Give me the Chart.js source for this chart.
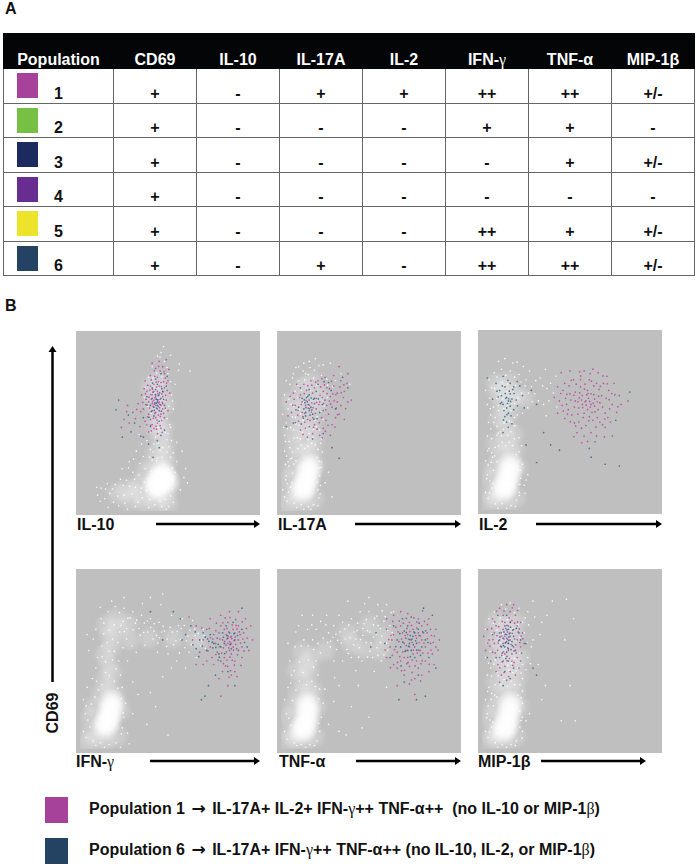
<!DOCTYPE html>
<html lang="en">
<head>
<meta charset="UTF-8">
<title>CD69 populations</title>
<script src="https://cdn.jsdelivr.net/npm/chart.js"></script>
<style>
  html, body { margin: 0; padding: 0; background: #fff; }
  body { position: relative; width: 699px; height: 868px; overflow: hidden; font-family: "Liberation Sans", Arial, sans-serif; font-weight: bold; color: #111; }
  .abs { position: absolute; white-space: pre; }
  canvas { position: absolute; background: #bfbfbf; }
  table { position: absolute; left: 3px; top: 33px; width: 692px; height: 242px; border-collapse: collapse; table-layout: fixed; }
  tr { height: 34.5px; }
  tr:first-child { height: 35px; }
  th { background: #030507; color: #fff; font-size: 16px; line-height: 16px; padding: 0 0 0; vertical-align: bottom; border: 1px solid #030507; box-sizing: border-box; }
  td { border: 1px solid #666; font-size: 16px; line-height: 16px; text-align: center; vertical-align: bottom; padding: 0 0 1px; position: relative; box-sizing: border-box; }
  .swatch { position: absolute; left: 13px; top: 4px; width: 21px; height: 25px; }
  .sym { font-family: "Liberation Serif", serif; font-weight: normal; }
  .arr { font-family: "DejaVu Sans", sans-serif; font-size: 17px; line-height: 16px; margin: 0 2px; }
  .lab { font-size: 16px; }
  .leg { font-size: 16px; }
  svg { position: absolute; left: 0; top: 0; }
</style>
</head>
<body>
<div class="abs" style="left:5px;top:0px;font-size:16px">A</div>
<div class="abs" style="left:5px;top:297px;font-size:16px">B</div>
<table id="tbl"></table>
<svg id="arrows" width="699" height="868"></svg>
<script>
// table A
const tableColumns = ['Population', 'CD69', 'IL-10', 'IL-17A', 'IL-2', 'IFN-γ', 'TNF-α', 'MIP-1β'];
const populations = ['1', '2', '3', '4', '5', '6'];
const swatchColors = ['#a6429a', '#76c043', '#1c2a60', '#682d91', '#ece32a', '#244362'];
const tableRows = [
  ['+', '-', '+', '+', '++', '++', '+/-'],
  ['+', '-', '-', '-', '+', '+', '-'],
  ['+', '-', '-', '-', '-', '+', '+/-'],
  ['+', '-', '-', '-', '-', '-', '-'],
  ['+', '-', '-', '-', '++', '+', '+/-'],
  ['+', '-', '+', '-', '++', '++', '+/-']
];

// panel B: dots are a hand-read sample of each cloud on a 0-100 scale, not every event.
// core = solid white centre, haze = soft white area, specks = single white events
const il10Core = [[46,18],[49,17],[43,16],[47,21],[44,13]];
const il10Haze = [[50,12],[48,8],[42,8],[36,9],[31,11],[26,12],[21,10],[28,6],[36,4],[44,4],[50,4],[49,27],[48,32],[48,37],[46,42],[47,47],[45,25],[41,26],[43,33],[44,55],[42,62],[46,68],[44,74],[48,60],[40,70],[43,48],[33,15],[37,22]];
const il10Specks = [[17,10],[20,15],[23,18],[25,9],[28,14],[14,7],[31,18],[33,5],[35,13],[37,24],[39,2],[41,29],[22,3],[27,1],[30,22],[34,27],[36,31],[53,5],[52,18],[54,22],[55,28],[53,33],[52,40],[50,44],[44,30],[42,38],[40,35],[38,40],[47,52],[51,49],[53,58],[52,66],[50,78],[48,85],[46,90],[44,88],[41,82],[39,76],[37,70],[54,72],[56,80],[57,12],[59,19],[61,16],[19,5],[12,13],[10,9],[24,24],[28,28],[32,34],[35,38],[40,45],[16,2],[45,9],[49,1],[47,36],[43,42],[55,39],[60,24],[58,34],
  [18.5,12.5],[21.5,8.5],[24.5,14.5],[26.5,17.5],[29.5,9.5],[31.5,13.5],[33.5,20.5],[35.5,7.5],[37.5,11.5],[38.5,18.5],[39.5,6.5],[40.5,22.5],[42.5,3.5],[43.5,10.5],[45.5,5.5],[46.5,2.5],[47.5,10.5],[48.5,6.5],[50.5,2.5],[51.5,8.5],[52.5,12.5],[52.5,24.5],[51.5,30.5],[50.5,36.5],[49.5,40.5],[48.5,44.5],[46.5,30.5],[45.5,34.5],[44.5,38.5],[43.5,28.5],[41.5,33.5],[39.5,30.5],[49.5,33.5],[47.5,26.5],[51.5,47.5],[49.5,52.5],[44.5,47.5],[40.5,55.5],[38.5,59.5],[41.5,75.5],[43.5,78.5],[46.5,76.5],[49.5,81.5],[51.5,73.5],[52.5,62.5],[50.5,59.5],[36.5,64.5],[33.5,43.5],[30.5,29.5],[27.5,24.5],[25.5,4.5],[31.5,2.5],[34.5,10.5],[36.5,16.5],[14.5,12.5],[11.5,5.5],[15.5,15.5],[9.5,13.5],[47.5,93.5],[45.5,87.5],[51.5,88.5],[56.5,83.5],[62.5,79.5]];
const il10Pop1 = [[43,60],[45,62],[41,57],[47,65],[44,68],[39,62],[42,72],[46,55],[48,70],[40,52],[44,50],[47,58],[43,65],[41,66],[45,71],[38,68],[49,63],[36,58],[42,47],[46,47],[44,76],[48,78],[40,77],[43,81],[47,82],[37,74],[35,66],[33,61],[30,56],[27,60],[25,52],[38,49],[50,74],[51,67],[50,57],[43,56],[42,63],[44,58],[46,60],[45,66],[41,61],[39,55],[37,51],[48,53],[28,50],[45,85],[41,84],[49,86],[42,68],[46,73],[40,71],[44,63],[47,61],[43,53],[41,49],[44,44],[39,45],[34,48],
  [43.5,61.5],[42.5,64.5],[44.5,59.5],[45.5,63.5],[41.5,59.5],[46.5,66.5],[40.5,63.5],[42.5,55.5],[44.5,54.5],[47.5,55.5],[39.5,58.5],[38.5,53.5],[45.5,48.5],[43.5,46.5],[40.5,45.5],[46.5,51.5],[48.5,58.5],[49.5,68.5],[47.5,73.5],[44.5,73.5],[42.5,76.5],[40.5,74.5],[38.5,71.5],[36.5,69.5],[43.5,70.5],[45.5,79.5],[48.5,75.5],[50.5,80.5],[37.5,63.5],[34.5,56.5],[31.5,52.5],[26.5,56.5],[23.5,47.5],[34.5,42.5],
  [42.2,60.7],[44.7,61.2],[43.2,63.7],[45.2,58.7],[41.2,62.2],[46.7,61.7],[40.2,66.2],[44.2,66.7],[42.7,66.2],[47.2,67.7],[39.2,64.7],[38.2,60.2],[43.7,51.7],[41.7,52.7],[45.7,53.7],[48.7,65.7],[46.2,70.7],[43.2,73.2],[41.2,69.2],[39.7,68.7],[37.2,66.7],[49.2,72.7],[44.7,82.2],[42.2,79.7],[47.7,79.2],[40.2,48.7],[43.2,48.2],[46.7,44.7],[35.7,61.7],[32.2,57.7]];
const il10Pop6 = [[44,62],[42,59],[45,57],[43,69],[41,64],[46,64],[44,72],[40,60],[47,68],[42,54],[45,51],[38,65],[48,60],[43,75],[40,48],[46,43],[36,53],[31,50],[22,63],[29,45],[24,42],[49,71],[36,42],[44,40],[45,36],[39,38],[43,66],[44,60],[41,70],[46,78],[48,46],[43.5,63.5],[44.5,65.5],[42.5,61.5],[45.5,60.5],[43.5,58.5],[41.5,67.5],[46.5,69.5],[47.5,63.5],[40.5,56.5],[37.5,60.5],[27.5,54.5],[20.5,57.5],[49.5,76.5],[41.5,30.5],[43.2,61.2],[44.2,63.2],[42.2,57.2],[45.2,67.2],[41.2,72.7],[39.2,53.2],[46.2,56.7]];

const il17Core = [[14,15],[15,20],[12,12],[16,25]];
const il17Haze = [[6,10],[9,6],[14,5],[19,7],[5,18],[7,24],[19,26],[10,31],[15,33],[18,34],[8,37],[14,39],[19,42],[7,44],[12,47],[17,50],[9,55],[14,60],[6,62],[12,70],[17,73],[20,60],[22,66],[4,4]];
const il17Specks = [[2,8],[3,20],[1,12],[4,28],[2,34],[5,36],[21,12],[22,20],[23,28],[21,35],[23,41],[2,43],[3,50],[1,55],[4,58],[2,66],[5,72],[7,78],[10,82],[13,84],[16,85],[19,80],[23,77],[26,75],[28,84],[24,83],[9,2],[13,1],[17,1],[21,3],[6,30],[11,41],[16,44],[20,48],[24,52],[22,46],[10,74],[14,78],[8,68],[3,74],[25,16],[27,22],[29,8],[31,74],[34,78],[39,72],
  [3.5,5.5],[5.5,13.5],[7.5,4.5],[3.5,15.5],[6.5,21.5],[4.5,25.5],[2.5,26.5],[8.5,28.5],[6.5,33.5],[4.5,39.5],[7.5,41.5],[9.5,35.5],[11.5,37.5],[13.5,35.5],[15.5,40.5],[17.5,38.5],[19.5,37.5],[20.5,30.5],[21.5,24.5],[20.5,16.5],[21.5,7.5],[18.5,3.5],[15.5,2.5],[11.5,3.5],[5.5,47.5],[8.5,49.5],[10.5,45.5],[12.5,51.5],[14.5,46.5],[18.5,46.5],[6.5,53.5],[10.5,57.5],[4.5,63.5],[7.5,59.5],[9.5,64.5],[12.5,61.5],[14.5,65.5],[16.5,68.5],[11.5,68.5],[9.5,71.5],[13.5,74.5],[15.5,77.5],[18.5,75.5],[20.5,71.5],[6.5,75.5],[22.5,56.5],[24.5,59.5],[26.5,64.5],[20.5,53.5],[22.5,38.5],[23.5,33.5],[22.5,14.5],[8.5,81.5],[12.5,79.5],[16.5,81.5],[21.5,82.5],[19.5,86.5],[26.5,71.5],[29.5,70.5],[1.5,47.5],[2.5,39.5],
  [4.2,10.7],[6.2,16.2],[8.2,9.2],[2.7,17.7],[5.2,29.7],[3.2,31.2],[7.2,26.7],[9.2,41.7],[12.2,44.7],[15.2,36.7],[18.2,41.7],[21.7,28.2],[22.7,24.7],[22.2,9.7],[7.2,46.2],[3.7,46.7],[10.2,48.7],[15.7,48.2],[19.2,51.7],[8.2,53.2],[5.7,60.7],[11.2,55.2],[17.7,53.2]];
const il17Pop1 = [[14,60],[16,63],[12,56],[18,67],[20,58],[15,52],[11,66],[22,62],[24,68],[26,60],[28,65],[30,71],[32,62],[27,55],[23,53],[19,49],[14,47],[10,51],[8,60],[6,56],[4,54],[7,67],[13,72],[17,74],[21,74],[25,76],[30,77],[34,74],[38,78],[36,68],[34,60],[38,62],[40,63],[33,55],[29,49],[24,47],[18,44],[15,42],[22,43],[28,43],[31,53],[36,52],[12,62],[16,57],[20,64],[18,53],[24,57],[26,70],[29,59],[32,67],[11,46],[9,72],[3,62],[19,70],[33,82],
  [15.5,58.5],[13.5,55.5],[17.5,61.5],[19.5,55.5],[21.5,60.5],[23.5,64.5],[25.5,57.5],[27.5,62.5],[29.5,66.5],[31.5,58.5],[16.5,51.5],[13.5,50.5],[20.5,46.5],[17.5,71.5],[14.5,68.5],[11.5,60.5],[9.5,54.5],[7.5,63.5],[22.5,70.5],[27.5,69.5],[25.5,51.5],[23.5,41.5],[35.5,64.5],[33.5,70.5],[37.5,72.5],[10.5,64.5],[18.5,47.5],[12.5,43.5],
  [14.2,62.7],[16.2,60.2],[18.2,58.7],[20.2,61.7],[22.2,65.7],[24.2,61.2],[26.2,66.7],[28.2,60.7],[30.2,62.7],[32.2,54.7],[30.7,47.7],[26.7,48.7],[21.7,50.2],[17.2,56.2],[12.7,52.7],[9.7,57.2],[6.7,60.2],[13.2,66.7],[15.2,71.2],[19.7,73.2],[24.7,71.7],[28.7,73.7],[31.2,66.2],[34.2,67.2],[36.7,58.2],[5.2,65.2],[8.2,50.2],[25.2,45.2],[35.7,71.7],[23.2,75.2]];
const il17Pop6 = [[15,62],[17,59],[13,58],[19,61],[16,66],[12,64],[18,55],[14,54],[20,68],[10,59],[22,56],[25,63],[7,50],[16,48],[21,72],[27,73],[31,58],[35,76],[38,70],[3,48],[11,70],[24,44],[18,41],[29,36],[33,30],[16,69],[14,56],[19,64],[15.5,60.5],[13.5,61.5],[17.5,57.5],[16.5,54.5],[12.5,53.5],[18.5,63.5],[14.5,64.5],[20.5,52.5],[8.5,57.5],[23.5,60.5],[28.5,68.5],[11.5,49.5],[24.5,73.5],[14.2,58.7],[16.2,58.2],[15.2,65.2],[13.2,63.2],[17.2,64.2],[18.7,52.2],[21.2,63.7]];

const il2Core = [[14,15],[15,20],[12,12],[16,25]];
const il2Haze = [[6,9],[9,6],[14,5],[19,7],[5,18],[7,24],[20,24],[10,31],[15,33],[18,34],[8,38],[14,40],[18,43],[13,47],[10,52],[15,55],[11,60],[16,62],[13,68],[9,67],[19,66],[24,63],[8,72],[15,73],[5,5]];
const il2Specks = [[2,10],[3,20],[2,28],[4,35],[3,42],[5,46],[21,10],[22,18],[23,26],[21,33],[21,41],[19,48],[20,54],[5,54],[3,60],[2,68],[4,74],[7,78],[11,80],[16,79],[21,77],[25,74],[28,70],[30,66],[32,62],[35,60],[37,69],[33,75],[27,79],[20,84],[13,86],[24,14],[25,17],[26,20],[9,1],[14,1],[19,2],[6,30],[11,42],[17,50],[23,55],[26,58],[38,62],[39,72],[42,76],[36,80],
  [3.5,6.5],[5.5,12.5],[7.5,3.5],[4.5,16.5],[6.5,22.5],[3.5,25.5],[8.5,27.5],[5.5,32.5],[7.5,35.5],[5.5,40.5],[8.5,42.5],[9.5,36.5],[11.5,38.5],[13.5,36.5],[15.5,38.5],[17.5,36.5],[19.5,31.5],[20.5,22.5],[21.5,14.5],[19.5,5.5],[16.5,2.5],[11.5,3.5],[18.5,40.5],[16.5,44.5],[14.5,42.5],[8.5,47.5],[10.5,44.5],[12.5,49.5],[15.5,50.5],[18.5,52.5],[7.5,52.5],[9.5,56.5],[6.5,58.5],[4.5,63.5],[8.5,63.5],[10.5,65.5],[12.5,57.5],[14.5,59.5],[16.5,56.5],[18.5,60.5],[20.5,63.5],[22.5,66.5],[17.5,69.5],[14.5,71.5],[11.5,72.5],[8.5,75.5],[5.5,69.5],[13.5,76.5],[18.5,75.5],[24.5,70.5],[26.5,66.5],[28.5,61.5],[30.5,73.5],[23.5,81.5],[17.5,83.5],[9.5,84.5],[22.5,36.5],[24.5,9.5],[34.5,70.5],[40.5,66.5],[42.5,58.5],[36.5,53.5],
  [4.2,9.7],[6.2,15.2],[8.2,8.7],[2.7,17.7],[5.2,27.2],[3.2,33.7],[7.2,30.7],[9.2,43.7],[12.2,45.7],[15.2,46.7],[18.2,47.7],[20.7,27.7],[21.7,22.7],[21.2,8.2],[6.7,49.7],[3.7,49.7],[4.7,57.7],[9.2,59.2],[11.7,63.2],[14.2,67.2],[7.2,69.2],[19.2,70.7],[22.2,72.7]];
const il2Pop1 = [[59,62],[57,65],[62,60],[55,58],[60,68],[64,63],[53,62],[66,57],[58,55],[68,65],[50,66],[48,60],[46,68],[44,62],[43,70],[47,72],[52,74],[56,74],[61,74],[65,72],[69,72],[72,68],[74,60],[70,55],[67,50],[63,51],[59,48],[55,50],[51,54],[47,52],[43,55],[41,64],[45,78],[50,79],[58,79],[63,80],[66,78],[71,76],[75,72],[73,50],[74,42],[62,44],[58,42],[54,44],[60,39],[65,42],[60,57],[57,60],[62,66],[53,67],[56,70],[64,59],[49,57],[67,61],[61,53],[79,60],[78,65],[70,47],[83,62],
  [58.5,61.5],[60.5,63.5],[56.5,62.5],[61.5,58.5],[63.5,65.5],[65.5,61.5],[55.5,66.5],[59.5,65.5],[52.5,58.5],[50.5,62.5],[54.5,54.5],[57.5,52.5],[62.5,55.5],[65.5,52.5],[68.5,58.5],[70.5,63.5],[72.5,57.5],[66.5,68.5],[63.5,70.5],[58.5,71.5],[53.5,71.5],[49.5,70.5],[45.5,59.5],[48.5,54.5],[52.5,49.5],[56.5,46.5],[68.5,48.5],[71.5,52.5],[69.5,41.5],[76.5,55.5],[75.5,65.5],[61.5,77.5],[55.5,78.5],[47.5,63.5],[54.5,61.5],
  [59.2,59.7],[61.2,61.7],[57.2,58.2],[60.2,66.2],[63.2,60.7],[55.2,63.7],[52.2,65.2],[48.2,65.7],[46.2,56.2],[50.2,50.2],[53.2,47.7],[60.7,50.7],[64.7,47.2],[69.7,51.7],[72.2,62.7],[67.2,70.2],[62.2,73.2],[56.2,76.2],[50.7,73.7],[44.7,66.2],[66.2,64.7],[64.2,55.7],[58.2,68.7],[73.7,66.2],[77.2,58.7],[71.2,71.7],[68.7,76.2],[52.2,41.7],[56.7,38.2],[64.2,38.7]];
const il2Pop6 = [[15,62],[14,58],[16,66],[13,70],[12,60],[17,63],[15,55],[11,65],[14,50],[18,57],[10,68],[16,72],[13,53],[18,70],[8,72],[20,73],[23,65],[6,63],[12,44],[15,47],[16,59],[14,64],[28,68],[31,60],[3,75],[24,58],[17,49],[12,76],[25,37],[31,27],[44,34],[39,37],[35,44],[62,30],[70,26],[78,25],[84,67],[76,51],[61,35],[14.5,60.5],[15.5,67.5],[13.5,63.5],[12.5,56.5],[16.5,53.5],[11.5,70.5],[17.5,68.5],[19.5,62.5],[10.5,60.5],[8.5,67.5],[21.5,70.5],[13.2,66.2],[15.2,63.2],[11.2,61.2],[16.2,61.7],[14.2,54.2],[12.2,51.2],[9.2,64.2],[18.2,66.2],[20.2,59.2],[14.7,73.7]];

const ifnCore = [[16,16],[17,21],[14,13],[18,26]];
const ifnHaze = [[6,9],[10,6],[15,5],[21,7],[6,18],[8,24],[23,22],[12,31],[17,34],[20,30],[14,39],[18,43],[16,48],[14,54],[18,58],[17,64],[21,68],[15,70],[20,74],[27,71],[39,63],[53,63],[66,62],[28,62],[4,4]];
const ifnSpecks = [[2,10],[3,20],[2,28],[4,35],[7,40],[9,46],[24,12],[25,18],[26,26],[24,35],[23,42],[22,50],[10,52],[5,56],[4,65],[9,68],[12,74],[16,78],[20,81],[25,80],[30,78],[35,76],[40,74],[45,72],[48,67],[42,67],[37,59],[32,55],[27,50],[44,55],[50,54],[55,50],[60,46],[52,46],[47,41],[40,32],[43,24],[38,14],[50,8],[30,38],[33,31],[25,86],[18,84],[46,82],[52,76],[58,74],[64,73],[70,68],[56,70],[62,55],[66,52],[28,3],[23,1],[14,1],[9,2],[30,20],[27,9],[40,86],[47,88],
  [3.5,6.5],[5.5,12.5],[7.5,4.5],[4.5,16.5],[6.5,25.5],[3.5,24.5],[8.5,29.5],[10.5,33.5],[12.5,36.5],[9.5,38.5],[14.5,43.5],[16.5,41.5],[19.5,38.5],[21.5,34.5],[23.5,28.5],[24.5,20.5],[23.5,8.5],[20.5,3.5],[16.5,2.5],[11.5,3.5],[20.5,45.5],[18.5,50.5],[14.5,49.5],[12.5,52.5],[16.5,55.5],[19.5,55.5],[12.5,58.5],[15.5,60.5],[18.5,62.5],[21.5,60.5],[13.5,65.5],[16.5,67.5],[19.5,70.5],[22.5,66.5],[24.5,72.5],[26.5,68.5],[28.5,74.5],[31.5,71.5],[33.5,68.5],[36.5,71.5],[38.5,66.5],[41.5,62.5],[43.5,64.5],[46.5,66.5],[49.5,62.5],[52.5,66.5],[54.5,61.5],[57.5,68.5],[60.5,61.5],[62.5,67.5],[65.5,64.5],[68.5,58.5],[70.5,64.5],[59.5,57.5],[56.5,54.5],[24.5,57.5],[26.5,62.5],[29.5,58.5],[11.5,80.5],[22.5,77.5],[35.5,82.5],[7.5,62.5],[13.5,71.5],
  [23.2,70.2],[25.2,66.7],[27.2,74.2],[30.2,67.7],[32.2,73.2],[34.2,64.7],[36.2,66.2],[38.2,72.7],[40.2,69.2],[42.2,71.2],[44.2,60.2],[47.2,69.7],[49.2,58.2],[51.2,69.2],[53.2,59.2],[55.2,66.7],[57.2,62.2],[59.2,70.2],[61.2,64.2],[63.2,59.2],[65.2,68.2],[67.2,65.7],[69.2,61.7],[71.2,57.2],[45.2,63.2]];
const ifnPop1 = [[85,61],[83,65],[87,58],[81,62],[88,66],[86,54],[80,70],[90,62],[84,72],[92,58],[78,55],[82,52],[88,50],[84,47],[90,70],[93,66],[95,63],[92,52],[76,65],[74,58],[72,68],[70,62],[68,55],[66,70],[64,62],[62,75],[74,74],[80,76],[85,78],[90,78],[94,74],[97,70],[86,42],[81,44],[76,48],[72,50],[79,40],[84,36],[80,30],[86,64],[83,59],[87,68],[82,68],[89,57],[85,56],[91,65],[77,60],[79,66],[75,52],[70,48],[66,48],[98,62],[96,56],[88,44],[84,60],[86,60],
  [85.5,63.5],[84.5,57.5],[87.5,61.5],[83.5,62.5],[88.5,59.5],[81.5,57.5],[90.5,66.5],[86.5,70.5],[83.5,68.5],[79.5,62.5],[80.5,54.5],[83.5,50.5],[86.5,50.5],[89.5,53.5],[92.5,62.5],[94.5,68.5],[88.5,73.5],[82.5,74.5],[77.5,71.5],[75.5,62.5],[73.5,68.5],[78.5,50.5],[81.5,48.5],[85.5,44.5],[91.5,47.5],[84.5,66.5],
  [86.2,62.7],[84.2,64.2],[82.2,61.2],[88.2,63.7],[87.2,56.2],[85.2,59.2],[89.2,68.2],[91.2,60.2],[93.2,55.7],[85.2,52.2],[87.7,47.7],[82.7,47.2],[79.2,58.2],[77.2,67.2],[81.2,71.7],[85.2,74.7],[88.7,70.2],[92.2,72.2],[74.2,63.2],[72.7,55.7],[84.7,40.7],[89.2,41.2],[77.2,53.7],[69.2,68.7],[83.2,55.2]];
const ifnPop6 = [[84,63],[86,57],[82,60],[88,62],[80,58],[78,63],[76,60],[74,65],[72,56],[70,66],[83,70],[90,56],[87,72],[92,68],[95,58],[68,62],[66,57],[63,70],[60,65],[58,62],[80,50],[84,44],[77,42],[73,36],[71,30],[69,28],[88,36],[92,80],[57,74],[53,78],[47,62],[40,78],[85,66],[81,66],[79,54],[85.5,59.5],[83.5,64.5],[87.5,65.5],[81.5,63.5],[78.5,59.5],[75.5,57.5],[72.5,62.5],[69.5,58.5],[65.5,66.5],[89.5,64.5],[93.5,60.5],[67.5,52.5],[75.2,60.7],[77.2,57.7],[73.2,61.2],[71.2,63.7],[79.2,52.2],[64.2,59.2],[82.2,54.2]];

const tnfCore = [[14,14],[15,19],[12,11],[15,25]];
const tnfHaze = [[6,9],[9,6],[14,5],[19,7],[5,18],[7,24],[20,24],[10,31],[15,33],[18,33],[12,39],[16,43],[14,48],[17,52],[12,55],[9,45],[25,56],[38,66],[50,70],[58,64],[47,57],[56,56],[40,60],[5,5]];
const tnfSpecks = [[2,10],[3,20],[2,28],[4,35],[6,42],[5,50],[8,58],[4,60],[22,10],[23,18],[24,26],[22,34],[21,42],[20,50],[13,62],[18,62],[21,60],[24,63],[27,66],[30,70],[35,72],[33,76],[40,74],[45,78],[50,78],[55,82],[60,82],[64,78],[62,70],[60,60],[57,50],[52,52],[46,50],[40,52],[35,50],[30,50],[28,58],[20,68],[15,68],[10,70],[12,76],[18,76],[26,76],[38,84],[50,86],[60,35],[44,36],[33,36],[30,27],[40,24],[27,14],[33,10],[50,18],[46,12],[37,8],[14,1],[9,2],[19,2],[25,34],[53,44],
  [3.5,5.5],[5.5,13.5],[7.5,3.5],[4.5,17.5],[6.5,27.5],[8.5,33.5],[5.5,37.5],[7.5,44.5],[10.5,38.5],[12.5,43.5],[14.5,36.5],[17.5,38.5],[19.5,35.5],[21.5,28.5],[21.5,14.5],[20.5,4.5],[16.5,2.5],[11.5,2.5],[18.5,46.5],[15.5,50.5],[10.5,49.5],[11.5,58.5],[15.5,58.5],[18.5,56.5],[22.5,54.5],[26.5,60.5],[29.5,63.5],[33.5,66.5],[36.5,62.5],[38.5,70.5],[41.5,66.5],[43.5,71.5],[46.5,64.5],[48.5,73.5],[50.5,66.5],[52.5,70.5],[54.5,75.5],[56.5,68.5],[58.5,72.5],[60.5,67.5],[44.5,57.5],[42.5,62.5],[48.5,60.5],[50.5,55.5],[54.5,57.5],[56.5,60.5],[58.5,53.5],[52.5,63.5],[46.5,68.5],[37.5,56.5],[31.5,56.5],[25.5,70.5],[22.5,72.5],[17.5,70.5],[8.5,66.5],[30.5,40.5],[42.5,44.5],[62.5,77.5],[57.5,78.5],[47.5,82.5],
  [28.2,61.2],[31.2,65.2],[34.2,60.2],[36.2,68.2],[39.2,63.2],[41.2,59.2],[43.2,67.2],[45.2,62.2],[47.2,71.2],[49.2,67.2],[51.2,60.2],[53.2,74.2],[55.2,70.2],[57.2,64.2],[59.2,75.2],[49.2,52.2],[55.2,53.2],[44.2,52.2],[38.2,54.2],[32.2,61.7],[60.7,56.2],[63.2,66.2],[54.2,65.2]];
const tnfPop1 = [[74,62],[72,65],[76,58],[70,60],[78,66],[75,54],[68,70],[80,62],[73,72],[82,58],[66,55],[70,52],[77,50],[73,47],[80,70],[83,66],[85,60],[82,50],[64,65],[62,58],[60,68],[78,74],[72,77],[68,78],[64,76],[60,74],[84,74],[88,68],[90,62],[86,54],[66,46],[70,42],[76,40],[80,42],[84,44],[64,48],[60,52],[73,58],[71,56],[75,68],[69,66],[79,56],[77,63],[81,66],[67,61],[63,62],[72,52],[68,50],[78,46],[88,58],[87,48],[73,37],[76,31],[66,36],[85,68],
  [74.5,60.5],[72.5,62.5],[76.5,64.5],[78.5,60.5],[70.5,64.5],[68.5,62.5],[66.5,66.5],[62.5,64.5],[80.5,54.5],[77.5,54.5],[74.5,50.5],[71.5,48.5],[67.5,52.5],[64.5,56.5],[69.5,71.5],[75.5,74.5],[81.5,72.5],[85.5,64.5],[83.5,54.5],[86.5,60.5],[79.5,48.5],[74.5,43.5],[68.5,44.5],[63.5,72.5],[71.5,68.5],[80.5,78.5],
  [75.2,56.2],[71.2,58.7],[73.2,66.7],[77.2,68.7],[79.2,64.2],[81.2,60.2],[83.2,62.7],[85.2,56.2],[87.2,64.2],[83.2,70.7],[77.2,72.2],[71.2,74.2],[65.2,69.2],[61.2,62.2],[59.2,56.2],[63.2,53.2],[66.2,49.2],[69.2,55.2],[72.2,49.2],[76.2,47.2],[80.2,50.2],[84.2,48.2],[70.2,44.7],[74.2,39.2],[79.2,38.7],[62.2,46.2],[67.2,72.7],[89.2,56.2],[74.2,70.2],[78.2,56.2]];
const tnfPop6 = [[73,60],[75,64],[71,63],[77,60],[74,56],[70,67],[78,68],[68,58],[72,70],[80,58],[76,52],[66,62],[82,62],[74,75],[69,74],[64,70],[62,52],[59,60],[84,52],[78,42],[70,38],[77,28],[67,28],[82,30],[88,46],[86,76],[81,80],[54,66],[51,58],[76,66],[72,56],[74.5,62.5],[72.5,58.5],[76.5,61.5],[75.5,66.5],[73.5,64.5],[70.5,55.5],[78.5,64.5],[80.5,66.5],[67.5,65.5],[83.5,60.5],[73.5,52.5],[78.5,71.5],[75.2,59.2],[73.2,62.2],[71.2,66.2],[69.2,60.7],[77.2,56.2],[79.2,53.2],[65.2,58.2],[82.2,67.2],[68.2,47.2]];

const mipCore = [[14,14],[15,19],[12,11],[16,25]];
const mipHaze = [[6,9],[9,6],[14,5],[19,7],[5,18],[7,24],[21,24],[10,31],[15,33],[19,33],[8,38],[14,40],[20,41],[12,46],[18,48],[9,52],[15,54],[21,52],[13,60],[18,64],[8,62],[13,70],[19,72],[8,72],[5,5]];
const mipSpecks = [[2,10],[3,20],[2,28],[4,35],[3,42],[5,46],[2,52],[23,10],[23,18],[23,26],[23,33],[23,40],[23,48],[22,58],[24,66],[23,72],[3,60],[2,68],[4,74],[7,78],[11,82],[16,83],[21,80],[26,78],[30,75],[34,72],[37,76],[29,62],[26,52],[25,45],[28,58],[32,48],[36,36],[27,20],[25,16],[9,1],[14,1],[19,2],[40,84],[48,85],[52,74],[47,62],[50,36],[34,28],[45,16],[53,16],[29,84],[33,65],
  [3.5,6.5],[5.5,12.5],[7.5,3.5],[4.5,16.5],[6.5,24.5],[3.5,24.5],[8.5,29.5],[5.5,31.5],[7.5,36.5],[5.5,41.5],[8.5,43.5],[10.5,36.5],[12.5,39.5],[14.5,35.5],[16.5,38.5],[18.5,36.5],[20.5,30.5],[21.5,21.5],[21.5,12.5],[19.5,4.5],[16.5,2.5],[11.5,2.5],[21.5,36.5],[19.5,44.5],[17.5,43.5],[14.5,47.5],[10.5,46.5],[7.5,50.5],[9.5,55.5],[12.5,52.5],[15.5,51.5],[18.5,51.5],[21.5,54.5],[6.5,58.5],[4.5,55.5],[10.5,60.5],[13.5,57.5],[16.5,60.5],[19.5,61.5],[21.5,63.5],[5.5,65.5],[8.5,67.5],[11.5,65.5],[17.5,68.5],[20.5,70.5],[10.5,74.5],[14.5,73.5],[18.5,77.5],[13.5,79.5],[6.5,71.5],[24.5,74.5],[26.5,70.5],[25.5,60.5],[27.5,48.5],
  [4.2,9.7],[6.2,15.2],[8.2,8.7],[2.7,17.7],[5.2,28.2],[3.2,32.7],[7.2,30.7],[9.2,41.7],[12.2,43.7],[15.2,44.7],[20.2,46.2],[22.2,29.2],[22.2,16.2],[22.7,6.2],[6.7,48.2],[3.7,48.7],[16.7,48.7],[22.2,43.2]];
const mipPop1 = [[14,63],[12,60],[16,66],[10,62],[18,68],[15,56],[8,70],[20,62],[13,72],[22,58],[6,55],[10,52],[17,50],[13,47],[20,70],[23,66],[4,62],[2,56],[9,48],[12,76],[16,78],[19,76],[6,74],[3,68],[22,72],[18,58],[11,66],[15,70],[7,60],[17,54],[13,54],[20,52],[22,50],[16,44],[11,42],[8,44],[5,50],[14,82],[10,80],[18,82],[21,46],[19,42],[15,60],[13,64],[16,62],[12,68],[9,56],[1,64],[24,60],[14,39],[10,38],[7,66],[17,73],
  [14.5,66.5],[12.5,62.5],[16.5,59.5],[10.5,58.5],[18.5,62.5],[8.5,64.5],[20.5,66.5],[13.5,68.5],[15.5,74.5],[11.5,72.5],[9.5,69.5],[18.5,71.5],[21.5,60.5],[19.5,54.5],[15.5,51.5],[11.5,49.5],[7.5,54.5],[4.5,58.5],[5.5,68.5],[22.5,54.5],[12.5,43.5],[17.5,47.5],[14.5,57.5],[12.5,78.5],
  [13.2,60.2],[15.2,63.7],[11.2,64.2],[17.2,65.7],[19.2,59.2],[9.2,60.2],[7.2,72.2],[14.2,70.2],[16.2,72.2],[20.2,72.2],[21.2,68.2],[23.2,62.7],[12.2,55.2],[14.2,50.2],[18.2,49.2],[6.2,62.2],[3.2,60.2],[10.2,46.2],[15.2,41.2],[8.2,78.2],[17.2,80.2],[20.2,78.7],[11.2,53.2],[22.2,64.2],[18.2,55.7]];
const mipPop6 = [[14,65],[15,60],[13,58],[16,64],[12,63],[15,68],[14,55],[17,61],[13,70],[11,58],[18,64],[10,66],[15,50],[12,50],[16,72],[8,52],[19,56],[6,65],[21,66],[13,44],[16,40],[9,76],[14,76],[18,46],[3,52],[22,62],[12,36],[29,46],[31,42],[25,60],[14,61],[15,57],[14.5,62.5],[13.5,60.5],[15.5,65.5],[12.5,66.5],[16.5,56.5],[11.5,54.5],[17.5,67.5],[9.5,61.5],[13.5,51.5],[19.5,68.5],[14.2,67.7],[13.2,65.2],[15.2,61.7],[16.2,69.2],[12.2,58.7],[10.2,63.7],[17.2,58.7],[14.2,52.7]];

const panels = [
  { left: 76, top: 331, core: il10Core, haze: il10Haze, specks: il10Specks, pop1: il10Pop1, pop6: il10Pop6 },
  { left: 277, top: 331, core: il17Core, haze: il17Haze, specks: il17Specks, pop1: il17Pop1, pop6: il17Pop6 },
  { left: 478, top: 330, core: il2Core, haze: il2Haze, specks: il2Specks, pop1: il2Pop1, pop6: il2Pop6 },
  { left: 76, top: 569, core: ifnCore, haze: ifnHaze, specks: ifnSpecks, pop1: ifnPop1, pop6: ifnPop6 },
  { left: 277, top: 569, core: tnfCore, haze: tnfHaze, specks: tnfSpecks, pop1: tnfPop1, pop6: tnfPop6 },
  { left: 478, top: 569, core: mipCore, haze: mipHaze, specks: mipSpecks, pop1: mipPop1, pop6: mipPop6 }
];

// axis labels and arrows under the panels
const axisLabels = [
  { html: 'IL-10', x: 77, y: 516, from: 156, to: 260, ay: 524 },
  { html: 'IL-17A', x: 278, y: 516, from: 355, to: 461, ay: 524 },
  { html: 'IL-2', x: 479, y: 516, from: 536, to: 662, ay: 524 },
  { html: 'IFN-<span class="sym">γ</span>', x: 76, y: 753, from: 150, to: 260, ay: 761 },
  { html: 'TNF-α', x: 279, y: 753, from: 356, to: 461, ay: 761 },
  { html: 'MIP-1β', x: 478, y: 753, from: 541, to: 646, ay: 761 }
];
const arrowGlyph = '<span class="arr">→</span>';
const legendItems = [
  { color: '#a6429a', top: 797, html: 'Population 1 ' + arrowGlyph + ' IL-17A+ IL-2+ IFN-<span class="sym">γ</span>++ TNF-α++  (no IL-10 or MIP-1<span class="sym">β</span>)' },
  { color: '#244362', top: 838, html: 'Population 6 ' + arrowGlyph + ' IL-17A+ IFN-<span class="sym">γ</span>++ TNF-α++ (no IL-10, IL-2, or MIP-1<span class="sym">β</span>)' }
];

// build table
const tbl = document.getElementById('tbl');
const head = tbl.insertRow();
tableColumns.forEach(c => {
  const th = document.createElement('th');
  th.innerHTML = c.replace('γ', '<span class="sym">γ</span>');
  head.appendChild(th);
});
head.cells[0].style.width = '110px';
tableRows.forEach((row, i) => {
  const tr = tbl.insertRow();
  const first = tr.insertCell();
  first.innerHTML = '<div class="swatch" style="background:' + swatchColors[i] + '"></div>' + populations[i];
  row.forEach(v => { tr.insertCell().textContent = v; });
});

// arrows
const svgLines = [];
function arrow(x1, y1, x2, y2) {
  const dx = Math.sign(x2 - x1), dy = Math.sign(y2 - y1);
  const bx = x2 - dx * 6, by = y2 - dy * 6;
  svgLines.push('<line x1="' + x1 + '" y1="' + y1 + '" x2="' + bx + '" y2="' + by + '" stroke="#000" stroke-width="2.5"/>');
  svgLines.push('<polygon fill="#000" points="' + x2 + ',' + y2 + ' ' + (bx - dy * 4) + ',' + (by - dx * 4) + ' ' + (bx + dy * 4) + ',' + (by + dx * 4) + '"/>');
}
arrow(52.5, 682, 52.5, 346);
axisLabels.forEach(a => {
  arrow(a.from, a.ay, a.to, a.ay);
  const d = document.createElement('div');
  d.className = 'abs lab';
  d.style.left = a.x + 'px';
  d.style.top = a.y + 'px';
  d.innerHTML = a.html;
  document.body.appendChild(d);
});
document.getElementById('arrows').innerHTML = svgLines.join('');

const yTitle = document.createElement('div');
yTitle.className = 'abs lab';
yTitle.textContent = 'CD69';
yTitle.style.cssText += 'left:33px;top:704px;transform:rotate(-90deg);';
document.body.appendChild(yTitle);

legendItems.forEach(l => {
  const s = document.createElement('div');
  s.className = 'abs';
  s.style.cssText = 'left:45px;top:' + l.top + 'px;width:23px;height:26px;background:' + l.color;
  document.body.appendChild(s);
  const t = document.createElement('div');
  t.className = 'abs leg';
  t.style.left = '89px';
  t.style.top = (l.top + 3) + 'px';
  t.innerHTML = l.html;
  document.body.appendChild(t);
});

// soft white blob used as point style for core and haze
function softBlob(size, alpha) {
  const s = document.createElement('canvas');
  s.width = size; s.height = size;
  const g = s.getContext('2d');
  const grad = g.createRadialGradient(size / 2, size / 2, 0, size / 2, size / 2, size / 2);
  grad.addColorStop(0, 'rgba(255,255,255,' + alpha + ')');
  grad.addColorStop(0.45, 'rgba(255,255,255,' + alpha * 0.8 + ')');
  grad.addColorStop(1, 'rgba(255,255,255,0)');
  g.fillStyle = grad;
  g.fillRect(0, 0, size, size);
  return s;
}
const coreBlob = softBlob(30, 1);
const hazeBlob = softBlob(26, 0.24);

// scatter panels
const toPoints = list => list.map(p => ({ x: p[0], y: p[1] }));
function dots(list, color, radius, style) {
  return { data: toPoints(list), backgroundColor: color, borderWidth: 0, pointRadius: radius, pointHoverRadius: radius, pointStyle: style || 'circle' };
}
panels.forEach(p => {
  const c = document.createElement('canvas');
  c.width = 184; c.height = 184;
  c.style.left = p.left + 'px';
  c.style.top = p.top + 'px';
  document.body.appendChild(c);
  new Chart(c, {
    type: 'scatter',
    data: {
      datasets: [
        dots(p.pop6, 'rgba(40,105,135,0.85)', 0.85),
        dots(p.pop1, 'rgba(190,65,165,0.85)', 0.85),
        dots(p.specks, 'rgba(255,255,255,0.95)', 0.8),
        dots(p.core, '#fff', 4, coreBlob),
        dots(p.haze, '#fff', 4, hazeBlob)
      ]
    },
    options: {
      responsive: false,
      animation: false,
      layout: { padding: 0 },
      plugins: { legend: { display: false }, tooltip: { enabled: false } },
      scales: {
        x: { type: 'linear', min: 0, max: 100, display: false },
        y: { type: 'linear', min: 0, max: 100, display: false }
      }
    }
  });
});
</script>
</body>
</html>
